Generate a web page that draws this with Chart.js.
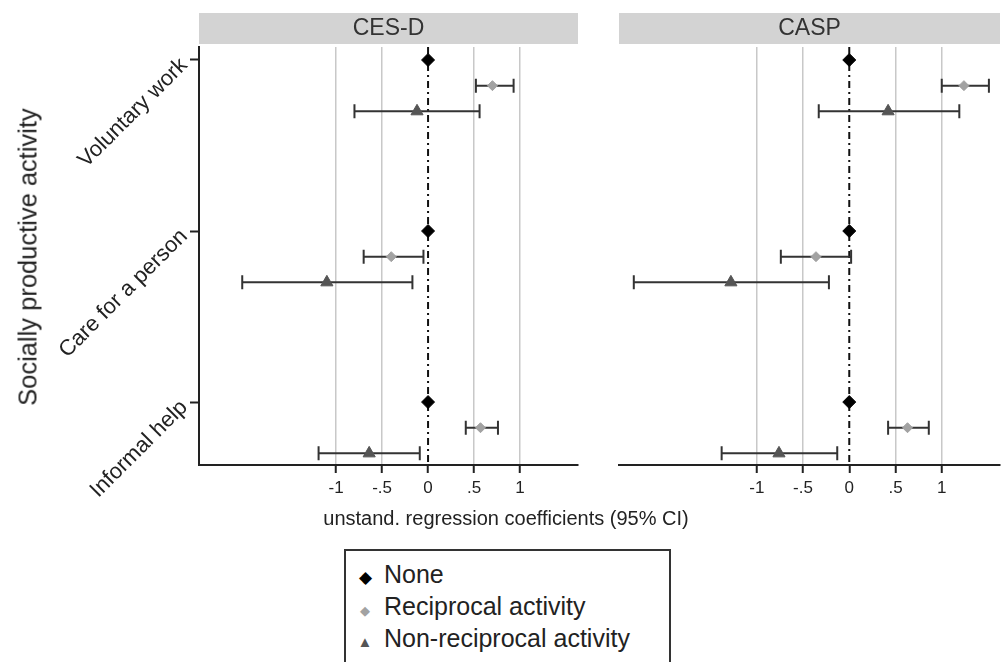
<!DOCTYPE html>
<html>
<head>
<meta charset="utf-8">
<script src="https://cdn.jsdelivr.net/npm/chart.js@4/dist/chart.umd.min.js"></script>
<style>
  body { margin: 0; background: #fff; }
  #wrap { position: relative; width: 1003px; height: 662px; overflow: hidden; background: #fff;
          font-family: 'Liberation Sans', Arial, sans-serif; color: #222; }
  canvas { position: absolute; top: 0; }
  #ytitle { position: absolute; left: 28px; top: 257px; transform: translate(-50%, -50%) rotate(-90deg);
            font-size: 25.5px; white-space: nowrap; }
  #xtitle { position: absolute; left: 506px; top: 518px; transform: translate(-50%, -50%);
            font-size: 20px; white-space: nowrap; }
  #legend { position: absolute; left: 344px; top: 549px; width: 323px; height: 140px;
            border: 2px solid #333; }
  .item { position: absolute; left: 0; font-size: 25px; white-space: nowrap; }
  .sym { display: inline-block; width: 38px; text-align: center; }
</style>
</head>
<body>
<div id="wrap">
  <canvas id="left" width="600" height="540" style="left:0"></canvas>
  <canvas id="right" width="408" height="540" style="left:600px"></canvas>
  <div id="ytitle">Socially productive activity</div>
  <div id="xtitle">unstand. regression coefficients (95% CI)</div>
  <div id="legend"></div>
</div>
<script>
// categories (top to bottom) and group names
const categories = ['Voluntary work', 'Care for a person', 'Informal help'];
const seriesNames = ['None', 'Reciprocal activity', 'Non-reciprocal activity'];
const panelTitles = ['CES-D', 'CASP'];
const tickValues = [-1, -0.5, 0, 0.5, 1];
const tickLabels = ['-1', '-.5', '0', '.5', '1'];

// reference category: always 0
const noneValues = [0, 0, 0];

// CES-D
const cesdRecip = [0.70, -0.40, 0.57];
const cesdRecipLo = [0.52, -0.70, 0.41];
const cesdRecipHi = [0.93, -0.05, 0.76];
const cesdNonRecip = [-0.12, -1.10, -0.64];
const cesdNonRecipLo = [-0.80, -2.02, -1.19];
const cesdNonRecipHi = [0.56, -0.17, -0.09];

// CASP
const caspRecip = [1.24, -0.36, 0.63];
const caspRecipLo = [1.00, -0.74, 0.42];
const caspRecipHi = [1.51, 0.02, 0.86];
const caspNonRecip = [0.42, -1.28, -0.76];
const caspNonRecipLo = [-0.33, -2.33, -1.38];
const caspNonRecipHi = [1.19, -0.22, -0.13];

const FONT = "'Liberation Sans', Arial, sans-serif";
const rowOffset = [0, 0.15, 0.3]; // vertical spread of the three groups within a category
const colors = ['#000000', '#a2a2a2', '#555555'];

function points(vals, lo, hi, k) {
  return vals.map((v, i) => ({ x: v, y: i + rowOffset[k], lo: lo ? lo[i] : null, hi: hi ? hi[i] : null }));
}

function makeDatasets(recip, rLo, rHi, non, nLo, nHi) {
  return [
    { label: seriesNames[0], data: points(noneValues, null, null, 0), pointStyle: 'rectRot',
      pointRadius: 6.5, backgroundColor: colors[0], borderColor: colors[0] },
    { label: seriesNames[1], data: points(recip, rLo, rHi, 1), pointStyle: 'rectRot',
      pointRadius: 5, backgroundColor: colors[1], borderColor: colors[1] },
    { label: seriesNames[2], data: points(non, nLo, nHi, 2), pointStyle: 'triangle',
      pointRadius: 7, backgroundColor: colors[2], borderColor: colors[2] }
  ];
}

// zero reference line + confidence intervals
const ciPlugin = {
  id: 'ciPlugin',
  beforeDatasetsDraw(chart) {
    const { ctx, chartArea, scales: { x, y } } = chart;
    ctx.save();
    const x0 = x.getPixelForValue(0);
    ctx.strokeStyle = '#111';
    ctx.lineWidth = 2;
    ctx.setLineDash([7, 4, 2, 4]);
    ctx.beginPath();
    ctx.moveTo(x0, chartArea.top);
    ctx.lineTo(x0, chartArea.bottom);
    ctx.stroke();
    ctx.setLineDash([]);
    ctx.strokeStyle = '#333';
    chart.data.datasets.forEach(ds => {
      ds.data.forEach(p => {
        if (p.lo === null) return;
        const a = x.getPixelForValue(p.lo), b = x.getPixelForValue(p.hi), py = y.getPixelForValue(p.y);
        ctx.beginPath();
        ctx.moveTo(a, py); ctx.lineTo(b, py);
        ctx.moveTo(a, py - 7); ctx.lineTo(a, py + 7);
        ctx.moveTo(b, py - 7); ctx.lineTo(b, py + 7);
        ctx.stroke();
      });
    });
    ctx.restore();
  }
};

// gray panel header
const headerPlugin = {
  id: 'header',
  afterDraw(chart, args, opts) {
    const { ctx, chartArea } = chart;
    ctx.save();
    ctx.fillStyle = '#d3d3d3';
    ctx.fillRect(chartArea.left, 13, chartArea.right - chartArea.left, 31);
    ctx.fillStyle = '#333';
    ctx.font = '23px ' + FONT;
    ctx.textAlign = 'center';
    ctx.textBaseline = 'middle';
    ctx.fillText(opts.text, (chartArea.left + chartArea.right) / 2, 29);
    ctx.restore();
  }
};

// rotated category labels on the y axis
const catLabelPlugin = {
  id: 'catLabels',
  afterDraw(chart, args, opts) {
    if (!opts.show) return;
    const { ctx, chartArea, scales: { y } } = chart;
    ctx.save();
    ctx.fillStyle = '#222';
    ctx.font = '22px ' + FONT;
    ctx.textAlign = 'right';
    ctx.textBaseline = 'middle';
    categories.forEach((c, i) => {
      ctx.save();
      ctx.translate(chartArea.left - 15, y.getPixelForValue(i) + 2);
      ctx.rotate(-Math.PI / 4);
      ctx.fillText(c, 0, 0);
      ctx.restore();
    });
    ctx.restore();
  }
};

function makeChart(id, title, datasets, pad, showY) {
  return new Chart(document.getElementById(id), {
    type: 'scatter',
    data: { datasets },
    options: {
      responsive: false,
      animation: false,
      layout: { padding: pad },
      plugins: {
        legend: { display: false },
        tooltip: { enabled: false },
        header: { text: title },
        catLabels: { show: showY }
      },
      scales: {
        x: {
          type: 'linear', min: -2.49, max: 1.63,
          afterBuildTicks: s => { s.ticks = tickValues.map(v => ({ value: v })); },
          afterFit: s => { s.height = 40; s.paddingLeft = 0; s.paddingRight = 0; },
          ticks: {
            callback: v => tickLabels[tickValues.indexOf(v)],
            font: { family: FONT, size: 17 }, color: '#222', padding: 5, maxRotation: 0
          },
          grid: {
            color: c => (c.tick && c.tick.value === 0) ? 'rgba(0,0,0,0)' : '#c8c8c8',
            lineWidth: 1.5, tickColor: '#222', tickLength: 8, tickWidth: 2
          },
          border: { display: true, color: '#222', width: 2 }
        },
        y: {
          type: 'linear', min: -0.076, max: 2.368, reverse: true,
          display: showY,
          afterBuildTicks: s => { s.ticks = categories.map((c, i) => ({ value: i })); },
          afterFit: s => { s.width = showY ? 10 : 0; },
          ticks: { callback: () => '', padding: 0 },
          grid: { drawOnChartArea: false, tickColor: '#222', tickLength: 9, tickWidth: 2 },
          border: { display: true, color: '#222', width: 2 }
        }
      }
    },
    plugins: [ciPlugin, headerPlugin, catLabelPlugin]
  });
}

makeChart('left', panelTitles[0],
  makeDatasets(cesdRecip, cesdRecipLo, cesdRecipHi, cesdNonRecip, cesdNonRecipLo, cesdNonRecipHi),
  { left: 189, right: 22, top: 47, bottom: 35 }, true);
makeChart('right', panelTitles[1],
  makeDatasets(caspRecip, caspRecipLo, caspRecipHi, caspNonRecip, caspNonRecipLo, caspNonRecipHi),
  { left: 19, right: 3, top: 47, bottom: 35 }, false);

// legend
const symbols = [['\u25C6', 17], ['\u25C6', 13], ['\u25B2', 15]];
const legend = document.getElementById('legend');
seriesNames.forEach((name, i) => {
  const d = document.createElement('div');
  d.className = 'item';
  d.style.top = (9 + i * 32) + 'px';
  d.innerHTML = '<span class="sym" style="color:' + colors[i] + ';font-size:' + symbols[i][1] + 'px">' +
    symbols[i][0] + '</span>' + name;
  legend.appendChild(d);
});
</script>
</body>
</html>
